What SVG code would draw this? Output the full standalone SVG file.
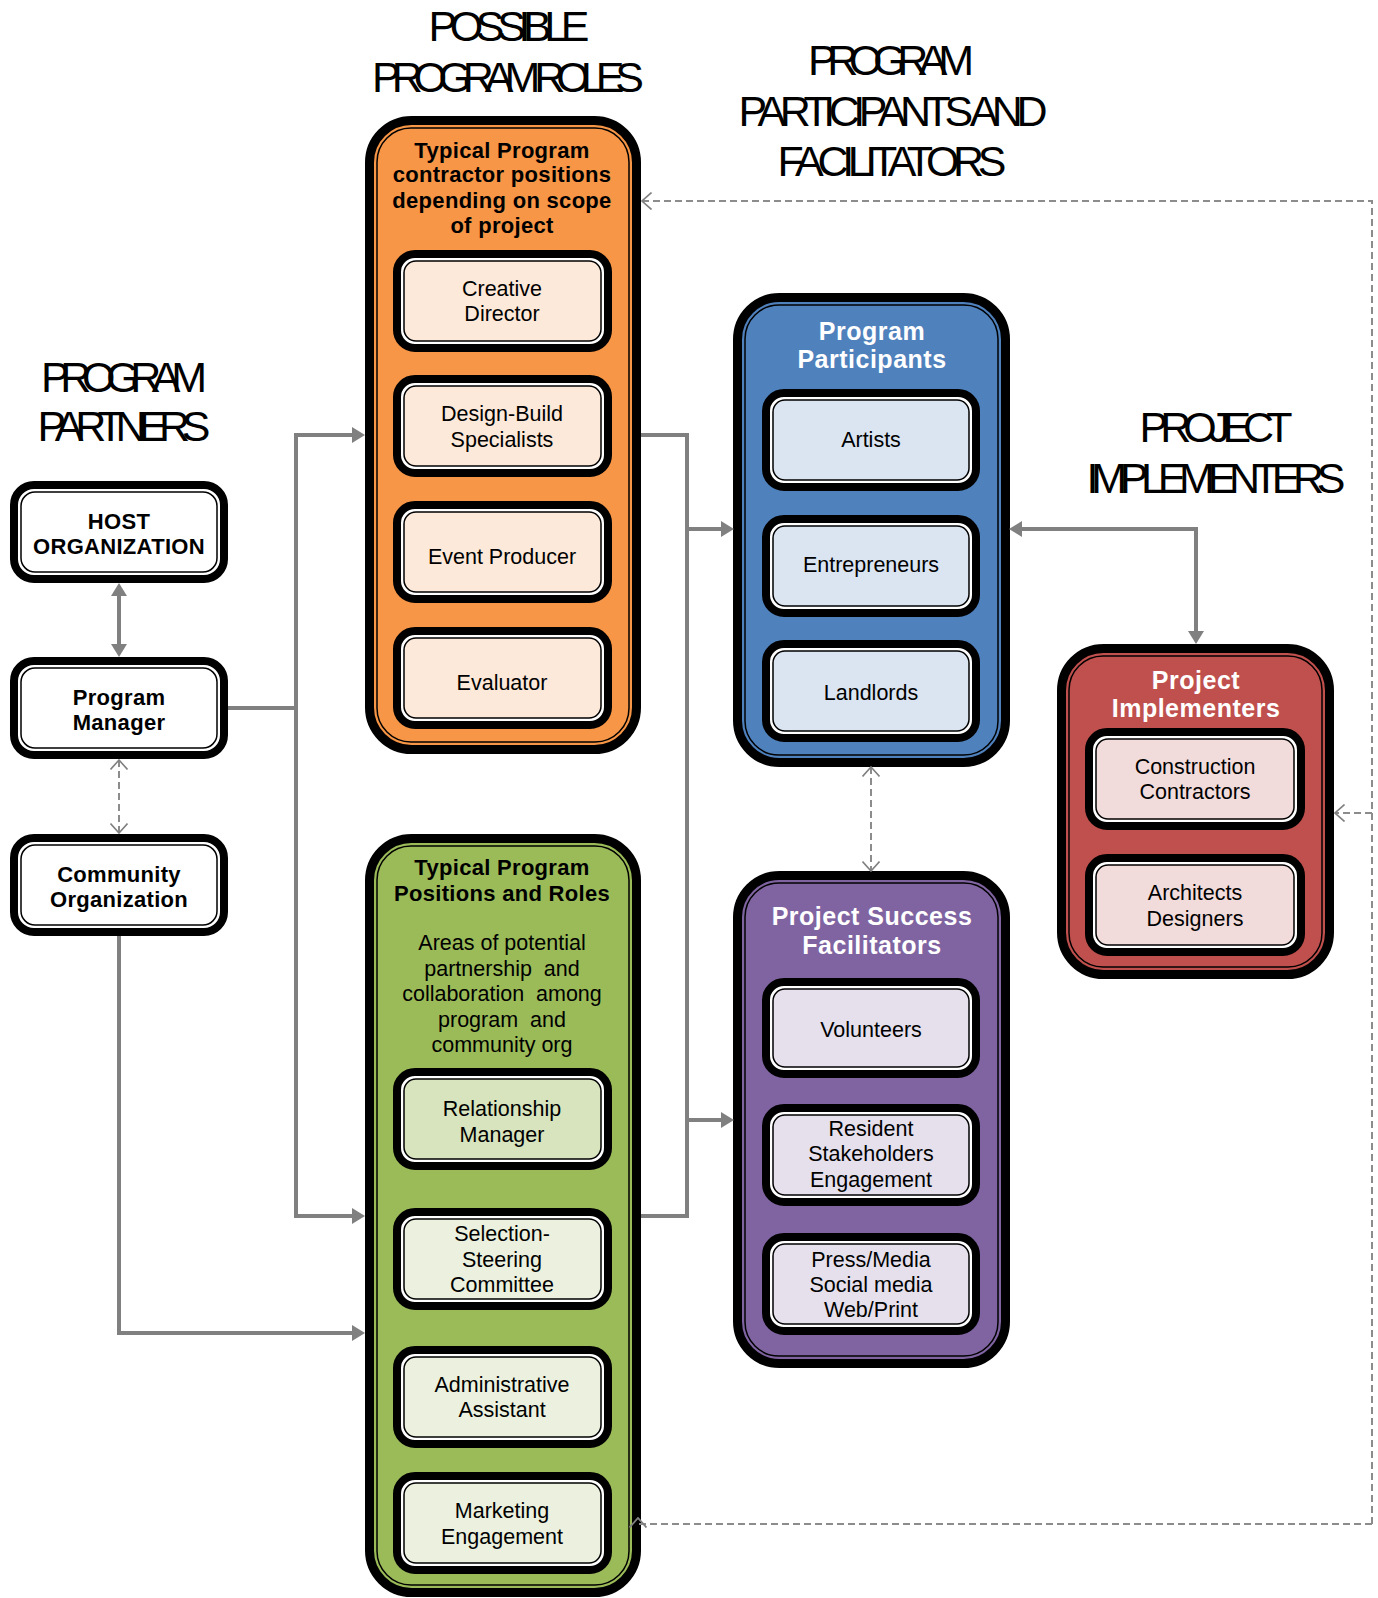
<svg xmlns="http://www.w3.org/2000/svg" width="1378" height="1598" viewBox="0 0 1378 1598">
<defs>
<style>
.bg{fill:#fff}
.shadow{fill:#000}
.bigouter{stroke:#000;stroke-width:9}
.bigline{fill:none;stroke:#000;stroke-width:1.5}
.smouter{fill:#fff;stroke:#000;stroke-width:8}
.smline{stroke:#000;stroke-width:1.5}
.org{fill:#F79646}.orgl{fill:#FDE9D9}
.blu{fill:#4F81BD}.blul{fill:#DBE5F1}
.pur{fill:#8064A2}.purl{fill:#E5E0EC}
.red{fill:#C0504D}.redl{fill:#F2DCDB}
.grn{fill:#9BBB59}.grnl{fill:#EBF1DE}.grnm{fill:#D7E4BD}
.wht{fill:#fff}
text{font-family:"Liberation Sans",Arial,Helvetica,sans-serif;text-anchor:middle;fill:#000}
.t{font-size:21.5px}
.pre{white-space:pre}
.b{font-size:22px;font-weight:bold;letter-spacing:0.3px}
.hw{font-size:25px;font-weight:bold;fill:#fff;letter-spacing:0.5px}
.title{font-size:43px}
.conn{fill:none;stroke:#808080;stroke-width:4}
.dash{fill:none;stroke:#8c8c8c;stroke-width:2;stroke-dasharray:7 4}
</style>
<marker id="solid" viewBox="0 0 13 16" markerUnits="userSpaceOnUse" markerWidth="13" markerHeight="16" refX="8" refY="8" orient="auto-start-reverse"><path d="M0,0 L13,8 L0,16 z" fill="#808080"/></marker>
<marker id="open" viewBox="0 0 11 18" markerUnits="userSpaceOnUse" markerWidth="11" markerHeight="18" refX="10" refY="9" orient="auto-start-reverse"><path d="M0.5,0.5 L10,9 L0.5,17.5" fill="none" stroke="#808080" stroke-width="1.6"/></marker>
<marker id="openUp" viewBox="0 0 11 18" markerUnits="userSpaceOnUse" markerWidth="11" markerHeight="18" refX="4" refY="9" orient="-90"><path d="M0.5,0.5 L10,9 L0.5,17.5" fill="none" stroke="#808080" stroke-width="1.8"/></marker>
</defs>
<rect class="bg" x="0" y="0" width="1378" height="1598"/>

<!-- titles -->
<g id="title-roles">
<text class="title" x="509" y="41" textLength="161" lengthAdjust="spacing">POSSIBLE</text>
<text class="title" x="508" y="92" textLength="272" lengthAdjust="spacing">PROGRAM ROLES</text>
</g>
<g id="title-participants">
<text class="title" x="891" y="75" textLength="166" lengthAdjust="spacing">PROGRAM</text>
<text class="title" x="893" y="126" textLength="309" lengthAdjust="spacing">PARTICIPANTS AND</text>
<text class="title" x="892" y="176" textLength="229" lengthAdjust="spacing">FACILITATORS</text>
</g>
<g id="title-partners">
<text class="title" x="124" y="392" textLength="166" lengthAdjust="spacing">PROGRAM</text>
<text class="title" x="124" y="441" textLength="173" lengthAdjust="spacing">PARTNERS</text>
</g>
<g id="title-implementers">
<text class="title" x="1216" y="442" textLength="153" lengthAdjust="spacing">PROJECT</text>
<text class="title" x="1216" y="493" textLength="259" lengthAdjust="spacing">IMPLEMENTERS</text>
</g>

<!-- left partner boxes -->
<g id="host-organization">
<rect class="smouter" x="14" y="485" width="210" height="94" rx="20"/>
<rect class="smline wht" x="21" y="492" width="196" height="80" rx="14"/>
<text class="b" x="119" y="529">HOST</text>
<text class="b" x="119" y="554">ORGANIZATION</text>
</g>
<g id="program-manager">
<rect class="smouter" x="14" y="661" width="210" height="94" rx="20"/>
<rect class="smline wht" x="21" y="668" width="196" height="80" rx="14"/>
<text class="b" x="119" y="705">Program</text>
<text class="b" x="119" y="730">Manager</text>
</g>
<g id="community-organization">
<rect class="smouter" x="14" y="838" width="210" height="94" rx="20"/>
<rect class="smline wht" x="21" y="845" width="196" height="80" rx="14"/>
<text class="b" x="119" y="882">Community</text>
<text class="b" x="119" y="907">Organization</text>
</g>

<!-- orange group -->
<g id="contractor-positions">
<rect class="shadow" x="371.5" y="122.5" width="267" height="629" rx="42"/>
<rect class="bigouter org" x="369.5" y="120.5" width="267" height="629" rx="42"/>
<rect class="bigline" x="377" y="128" width="252" height="614" rx="34"/>
<text class="b" x="502" y="158">Typical Program</text>
<text class="b" x="502" y="182">contractor positions</text>
<text class="b" x="502" y="208">depending on scope</text>
<text class="b" x="502" y="233">of project</text>
</g>
<g id="creative-director">
<rect class="smouter" x="397" y="254" width="211" height="94" rx="18"/>
<rect class="smline orgl" x="404" y="261" width="197" height="80" rx="12"/>
<text class="t" x="502" y="296">Creative</text>
<text class="t" x="502" y="321">Director</text>
</g>
<g id="design-build">
<rect class="smouter" x="397" y="379" width="211" height="94" rx="18"/>
<rect class="smline orgl" x="404" y="386" width="197" height="80" rx="12"/>
<text class="t" x="502" y="421">Design-Build</text>
<text class="t" x="502" y="447">Specialists</text>
</g>
<g id="event-producer">
<rect class="smouter" x="397" y="505" width="211" height="94" rx="18"/>
<rect class="smline orgl" x="404" y="512" width="197" height="80" rx="12"/>
<text class="t" x="502" y="564">Event Producer</text>
</g>
<g id="evaluator">
<rect class="smouter" x="397" y="631" width="211" height="94" rx="18"/>
<rect class="smline orgl" x="404" y="638" width="197" height="80" rx="12"/>
<text class="t" x="502" y="690">Evaluator</text>
</g>

<!-- green group -->
<g id="program-positions">
<rect class="shadow" x="371.5" y="840.5" width="267" height="754" rx="42"/>
<rect class="bigouter grn" x="369.5" y="838.5" width="267" height="754" rx="42"/>
<rect class="bigline" x="377" y="846" width="252" height="739" rx="34"/>
<text class="b" x="502" y="875">Typical Program</text>
<text class="b" x="502" y="901">Positions and Roles</text>
<text class="t" x="502" y="950">Areas of potential</text>
<text class="t pre" x="502" y="976">partnership  and</text>
<text class="t pre" x="502" y="1001">collaboration  among</text>
<text class="t pre" x="502" y="1027">program  and</text>
<text class="t" x="502" y="1052">community org</text>
</g>
<g id="relationship-manager">
<rect class="smouter" x="397" y="1072" width="211" height="94" rx="18"/>
<rect class="smline grnm" x="404" y="1079" width="197" height="80" rx="12"/>
<text class="t" x="502" y="1116">Relationship</text>
<text class="t" x="502" y="1142">Manager</text>
</g>
<g id="selection-steering">
<rect class="smouter" x="397" y="1212" width="211" height="94" rx="18"/>
<rect class="smline grnl" x="404" y="1219" width="197" height="80" rx="12"/>
<text class="t" x="502" y="1241">Selection-</text>
<text class="t" x="502" y="1267">Steering</text>
<text class="t" x="502" y="1292">Committee</text>
</g>
<g id="administrative-assistant">
<rect class="smouter" x="397" y="1350" width="211" height="94" rx="18"/>
<rect class="smline grnl" x="404" y="1357" width="197" height="80" rx="12"/>
<text class="t" x="502" y="1392">Administrative</text>
<text class="t" x="502" y="1417">Assistant</text>
</g>
<g id="marketing-engagement">
<rect class="smouter" x="397" y="1476" width="211" height="94" rx="18"/>
<rect class="smline grnl" x="404" y="1483" width="197" height="80" rx="12"/>
<text class="t" x="502" y="1518">Marketing</text>
<text class="t" x="502" y="1544">Engagement</text>
</g>

<!-- blue group -->
<g id="program-participants">
<rect class="shadow" x="739.5" y="299.5" width="268" height="465" rx="42"/>
<rect class="bigouter blu" x="737.5" y="297.5" width="268" height="465" rx="42"/>
<rect class="bigline" x="745" y="305" width="253" height="450" rx="34"/>
<text class="hw" x="872" y="340">Program</text>
<text class="hw" x="872" y="368">Participants</text>
</g>
<g id="artists">
<rect class="smouter" x="766" y="393" width="210" height="94" rx="18"/>
<rect class="smline blul" x="773" y="400" width="196" height="80" rx="12"/>
<text class="t" x="871" y="447">Artists</text>
</g>
<g id="entrepreneurs">
<rect class="smouter" x="766" y="519" width="210" height="94" rx="18"/>
<rect class="smline blul" x="773" y="526" width="196" height="80" rx="12"/>
<text class="t" x="871" y="572">Entrepreneurs</text>
</g>
<g id="landlords">
<rect class="smouter" x="766" y="644" width="210" height="94" rx="18"/>
<rect class="smline blul" x="773" y="651" width="196" height="80" rx="12"/>
<text class="t" x="871" y="700">Landlords</text>
</g>

<!-- purple group -->
<g id="project-success-facilitators">
<rect class="shadow" x="739.5" y="877.5" width="268" height="488" rx="42"/>
<rect class="bigouter pur" x="737.5" y="875.5" width="268" height="488" rx="42"/>
<rect class="bigline" x="745" y="883" width="253" height="473" rx="34"/>
<text class="hw" x="872" y="925">Project Success</text>
<text class="hw" x="872" y="954">Facilitators</text>
</g>
<g id="volunteers">
<rect class="smouter" x="766" y="982" width="210" height="92" rx="18"/>
<rect class="smline purl" x="773" y="989" width="196" height="78" rx="12"/>
<text class="t" x="871" y="1037">Volunteers</text>
</g>
<g id="resident-stakeholders">
<rect class="smouter" x="766" y="1108" width="210" height="94" rx="18"/>
<rect class="smline purl" x="773" y="1115" width="196" height="80" rx="12"/>
<text class="t" x="871" y="1136">Resident</text>
<text class="t" x="871" y="1161">Stakeholders</text>
<text class="t" x="871" y="1187">Engagement</text>
</g>
<g id="press-media">
<rect class="smouter" x="766" y="1237" width="210" height="94" rx="18"/>
<rect class="smline purl" x="773" y="1244" width="196" height="80" rx="12"/>
<text class="t" x="871" y="1267">Press/Media</text>
<text class="t" x="871" y="1292">Social media</text>
<text class="t" x="871" y="1317">Web/Print</text>
</g>

<!-- red group -->
<g id="project-implementers">
<rect class="shadow" x="1063.5" y="650.5" width="268" height="326" rx="42"/>
<rect class="bigouter red" x="1061.5" y="648.5" width="268" height="326" rx="42"/>
<rect class="bigline" x="1069" y="656" width="253" height="311" rx="34"/>
<text class="hw" x="1196" y="689">Project</text>
<text class="hw" x="1196" y="717">Implementers</text>
</g>
<g id="construction-contractors">
<rect class="smouter" x="1089" y="732" width="212" height="94" rx="18"/>
<rect class="smline redl" x="1096" y="739" width="198" height="80" rx="12"/>
<text class="t" x="1195" y="774">Construction</text>
<text class="t" x="1195" y="799">Contractors</text>
</g>
<g id="architects-designers">
<rect class="smouter" x="1089" y="858" width="212" height="94" rx="18"/>
<rect class="smline redl" x="1096" y="865" width="198" height="80" rx="12"/>
<text class="t" x="1195" y="900">Architects</text>
<text class="t" x="1195" y="926">Designers</text>
</g>

<!-- connectors -->
<g id="connectors">
<path class="conn" d="M119,588 V652" marker-start="url(#solid)" marker-end="url(#solid)"/>
<path class="dash" d="M119,760 V833" marker-start="url(#open)" marker-end="url(#open)"/>
<path class="conn" d="M228,708 H296 V435 H360" marker-end="url(#solid)"/>
<path class="conn" d="M296,706 V1216 H360" marker-end="url(#solid)"/>
<path class="conn" d="M119,936 V1333 H360" marker-end="url(#solid)"/>
<path class="conn" d="M641,435 H687 V1216 H641"/>
<path class="conn" d="M687,529 H729" marker-end="url(#solid)"/>
<path class="conn" d="M687,1120 H729" marker-end="url(#solid)"/>
<path class="conn" d="M1014,529 H1196 V639" marker-start="url(#solid)" marker-end="url(#solid)"/>
<path class="dash" d="M871,767 V871" marker-start="url(#open)" marker-end="url(#open)"/>
<path class="dash" d="M1372,1524 V201 H642" marker-end="url(#open)"/>
<path class="dash" d="M1372,813 H1335" marker-end="url(#open)"/>
<path class="dash" d="M1372,1524 H638" marker-end="url(#openUp)"/>
</g>
</svg>
